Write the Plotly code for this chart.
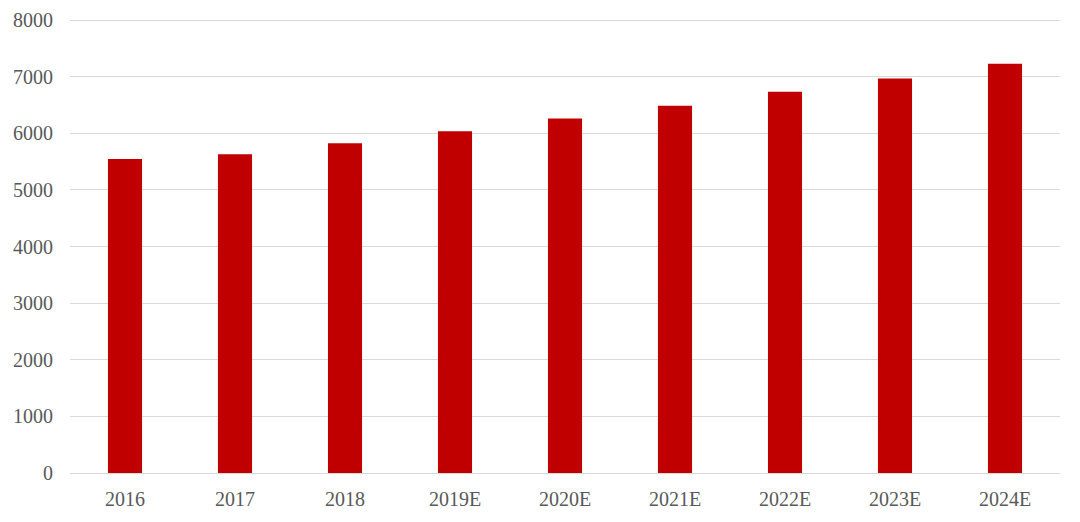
import plotly.graph_objects as go

# Data
years = ["2016", "2017", "2018", "2019E", "2020E", "2021E", "2022E", "2023E", "2024E"]
values = [5545, 5630, 5825, 6037, 6261, 6485, 6732, 6966, 7226]

bar_color = "#C00000"
font_family = "Liberation Serif, Times New Roman, serif"

fig = go.Figure(
    go.Bar(
        x=years,
        y=values,
        marker=dict(color=bar_color, line=dict(width=0)),
        width=0.31,
    )
)

# the page body has an 8px margin, so the figure is a bit smaller than the window
fig.update_layout(
    width=1072,
    height=514,
    margin=dict(l=62, r=20, t=11, b=49),
    plot_bgcolor="white",
    paper_bgcolor="white",
    font=dict(family=font_family, size=20, color="#595959"),
    showlegend=False,
)

fig.update_yaxes(
    range=[0, 8018],
    tickvals=[0, 1000, 2000, 3000, 4000, 5000, 6000, 7000, 8000],
    showgrid=True,
    gridcolor="#D9D9D9",
    gridwidth=1,
    zeroline=False,
    showline=False,
    ticklabelstandoff=16,
    automargin=False,
)

fig.update_xaxes(
    showline=True,
    linecolor="#D9D9D9",
    linewidth=1,
    ticks="",
    ticklabelstandoff=8,
    automargin=False,
)

fig.write_html("out.html")
